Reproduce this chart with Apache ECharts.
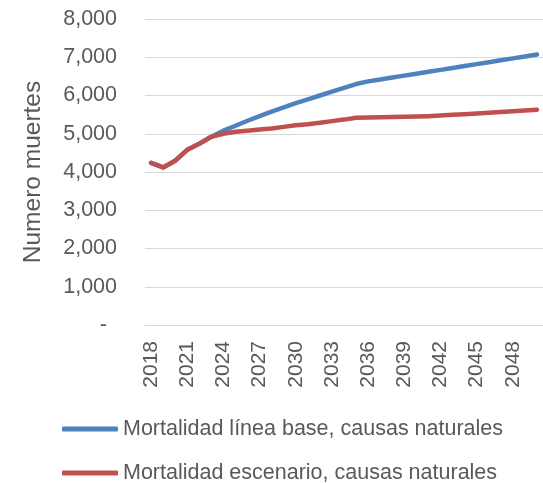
<!DOCTYPE html>
<html>
<head>
<meta charset="utf-8">
<script src="https://cdn.jsdelivr.net/npm/echarts@6/dist/echarts.min.js"></script>
<style>
  html, body { margin: 0; padding: 0; background: #fff; }
  #chart { width: 543px; height: 483px; }
</style>
</head>
<body>
<div id="chart"></div>
<script>
const years = []
for (let y = 2018; y <= 2050; y++) years.push(String(y))

// Mortalidad línea base, causas naturales
const baseline = [4240, 4120, 4295, 4580, 4740, 4920, 5080, 5210, 5340, 5460, 5580, 5690, 5800,
  5900, 6000, 6100, 6200, 6300, 6370, 6420, 6470, 6520, 6570, 6620, 6670, 6720, 6770, 6820,
  6870, 6920, 6970, 7020, 7070]
// Mortalidad escenario, causas naturales
const scenario = [4240, 4120, 4295, 4580, 4740, 4920, 5000, 5050, 5080, 5110, 5140, 5180, 5220,
  5250, 5290, 5330, 5370, 5420, 5425, 5430, 5440, 5445, 5450, 5460, 5475, 5495, 5510, 5530,
  5550, 5570, 5590, 5610, 5630]

const seriesNames = ['Mortalidad línea base, causas naturales', 'Mortalidad escenario, causas naturales']
const yTicks = [0, 1000, 2000, 3000, 4000, 5000, 6000, 7000, 8000]

const font = '"Liberation Sans", Arial, sans-serif'
const grey = '#595959'

function legendRow (name, top) {
  return {
    left: 62,
    top: top,
    padding: 0,
    icon: 'roundRect',
    itemWidth: 56,
    itemHeight: 5,
    data: [name],
    textStyle: { color: grey, fontSize: 21.5, fontFamily: font }
  }
}

const chart = echarts.init(document.getElementById('chart'))
chart.setOption({
  animation: false,
  color: ['#4F81BD', '#C0504D'],
  grid: { left: 145, right: -5, top: 19, bottom: 158 },
  legend: [legendRow(seriesNames[0], 418), legendRow(seriesNames[1], 462)],
  xAxis: {
    type: 'category',
    boundaryGap: true,
    data: years,
    axisLine: { lineStyle: { color: '#d9d9d9', width: 1 } },
    axisTick: { show: false },
    axisLabel: {
      interval: 2,
      rotate: 90,
      margin: 16,
      color: grey,
      fontSize: 21,
      fontFamily: font
    }
  },
  yAxis: {
    type: 'value',
    min: yTicks[0],
    max: yTicks[yTicks.length - 1],
    interval: 1000,
    name: 'Numero muertes',
    nameLocation: 'middle',
    nameRotate: 90,
    nameGap: 99,
    nameTextStyle: { color: grey, fontSize: 24.5, fontFamily: font },
    axisLine: { show: false },
    axisTick: { show: false },
    splitLine: { lineStyle: { color: '#d9d9d9', width: 1 } },
    axisLabel: {
      margin: 28,
      color: grey,
      fontSize: 21.5,
      fontFamily: font,
      formatter: v => v === 0 ? '{d|-}' : v.toLocaleString('en-US'),
      rich: { d: { color: grey, fontSize: 21.5, fontFamily: font, padding: [0, 10, 0, 0] } }
    }
  },
  series: [
    {
      name: seriesNames[0],
      type: 'line',
      data: baseline,
      symbol: 'none',
      lineStyle: { width: 4.5, cap: 'round', join: 'round' }
    },
    {
      name: seriesNames[1],
      type: 'line',
      data: scenario,
      symbol: 'none',
      lineStyle: { width: 4.5, cap: 'round', join: 'round' }
    }
  ]
})
</script>
</body>
</html>
